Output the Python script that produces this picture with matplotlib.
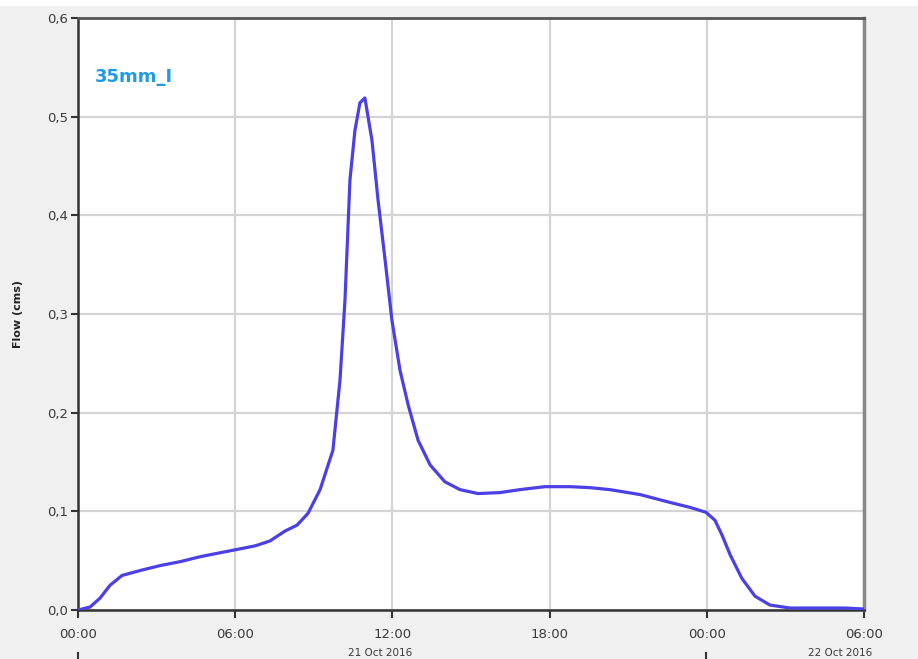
import numpy as np
import matplotlib
matplotlib.use("Agg")
import matplotlib.pyplot as plt
from matplotlib.patches import Rectangle

# ─── Data (hours from 00:00, flow in cms) ─────────────────────────────────────

hours = [0.0, 0.46, 0.84, 1.22, 1.68, 2.37, 3.13, 3.9, 4.66, 5.42, 6.0, 6.76,
         7.33, 7.9, 8.36, 8.78, 9.24, 9.73, 10.0, 10.19, 10.38, 10.57, 10.76,
         10.95, 11.22, 11.45, 11.72, 11.98, 12.29, 12.6, 12.98, 13.44, 14.0,
         14.58, 15.27, 16.1, 16.87, 17.82, 18.78, 19.54, 20.3, 21.45, 22.6,
         23.36, 23.97, 24.31, 24.58, 24.89, 25.34, 25.84, 26.41, 27.18, 28.3,
         29.27, 30.0]
flow = [0.0, 0.003, 0.012, 0.025, 0.035, 0.040, 0.045, 0.049, 0.054, 0.058,
        0.061, 0.065, 0.070, 0.080, 0.086, 0.098, 0.122, 0.162, 0.233, 0.314,
        0.436, 0.486, 0.514, 0.519, 0.476, 0.416, 0.355, 0.294, 0.243, 0.208,
        0.172, 0.147, 0.130, 0.122, 0.118, 0.119, 0.122, 0.125, 0.125, 0.124,
        0.122, 0.117, 0.109, 0.104, 0.099, 0.091, 0.076, 0.056, 0.032, 0.014,
        0.005, 0.002, 0.002, 0.002, 0.001]

x_ticks = [0, 6, 12, 18, 24, 30]
x_labels = ["00:00", "06:00", "12:00", "18:00", "00:00", "06:00"]
y_ticks = [0.0, 0.1, 0.2, 0.3, 0.4, 0.5, 0.6]
y_labels = ["0,0", "0,1", "0,2", "0,3", "0,4", "0,5", "0,6"]
series_name = "35mm_I"
date_labels = ["21 Oct 2016", "22 Oct 2016"]

# ─── Figure ───────────────────────────────────────────────────────────────────

W, H = 918, 659
fig = plt.figure(figsize=(W / 100, H / 100), dpi=100, facecolor="#f0f0f0")
fig.patches.append(Rectangle((0, 1 - 6 / H), 1, 6 / H, transform=fig.transFigure,
                             facecolor="white", edgecolor="none", zorder=0))

ax = fig.add_axes([78 / W, 49 / H, (864 - 78) / W, (610 - 18) / H])
ax.set_facecolor("white")

ax.plot(hours, flow, color="#4a40e6", lw=2.3, zorder=3)

ax.set_xlim(0, 30)
ax.set_ylim(0, 0.6)
ax.set_xticks(x_ticks)
ax.set_xticklabels(x_labels)
ax.set_yticks(y_ticks)
ax.set_yticklabels(y_labels)
ax.grid(True, color="#d4d4d4", lw=1.6)
ax.set_axisbelow(True)

ax.tick_params(axis="x", length=6, width=1.5, color="#333333", pad=7,
               labelsize=9.5, labelcolor="#3a3a3a")
ax.tick_params(axis="y", length=5, width=1.5, color="#333333", pad=2,
               labelsize=9.5, labelcolor="#3a3a3a")

for side in ["left", "bottom"]:
    ax.spines[side].set_color("#333333")
    ax.spines[side].set_linewidth(1.8)
ax.spines["top"].set_color("#555555")
ax.spines["top"].set_linewidth(2.0)
ax.spines["right"].set_color("#888888")
ax.spines["right"].set_linewidth(2.5)

ax.set_ylabel("Flow (cms)", fontsize=8, fontweight="bold", color="#222222")
ax.yaxis.set_label_coords(-55 / (864 - 78), 0.5)

ax.text(0.022, 0.9, series_name, transform=ax.transAxes, fontsize=13,
        fontweight="bold", color="#1f9be3", va="center", ha="left")

# date row under the time labels (mostly cut off in the original)
for px, lab in zip([380, 840], date_labels):
    fig.text(px / W, 1 / H, lab, ha="center", va="bottom",
             fontsize=7.5, color="#3a3a3a")
for px in [78, 706]:
    fig.add_artist(plt.Line2D([px / W, px / W], [0, 6 / H], color="#333333",
                              lw=1.5, transform=fig.transFigure))

fig.savefig("out.png", dpi=100, facecolor=fig.get_facecolor())
